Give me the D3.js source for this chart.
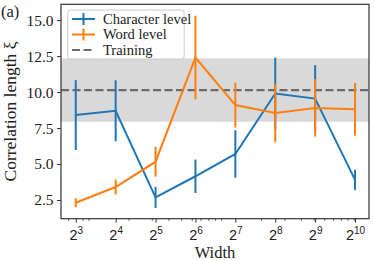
<!DOCTYPE html>
<html>
<head>
<meta charset="utf-8">
<script src="https://cdn.jsdelivr.net/npm/d3@7"></script>
<style>
  body { margin: 0; background: #fff; }
  svg { display: block; font-family: "Liberation Serif", "DejaVu Serif", serif; }
</style>
</head>
<body>
<div id="chart"></div>
<script>
// Data
const widths = [8, 16, 32, 64, 128, 256, 512, 1024];
const charMean = [8.40, 8.70, 2.68, 4.15, 5.70, 9.90, 9.55, 3.90];
const charErr = [2.43, 2.12, 0.73, 1.16, 1.65, 2.50, 2.32, 0.70];
const wordMean = [2.31, 3.40, 5.16, 12.40, 9.10, 8.55, 8.90, 8.80];
const wordErr = [0.31, 0.52, 1.04, 2.90, 1.55, 2.05, 2.00, 1.83];
const trainMean = 10.14;
const trainStd = 2.2;
const yTicks = [2.5, 5.0, 7.5, 10.0, 12.5, 15.0];
const xMinorTicks = [7, 9, 10, 20, 30, 40, 50, 60, 70, 80, 90, 100, 200, 300, 400, 500, 600, 700, 800, 900, 1000];
const seriesNames = ["Character level", "Word level", "Training"];

const drawChart = (containerId) => {
    const width = 374;
    const height = 261;
    const margin = { top: 4.3, right: 5, bottom: 42.3, left: 61 };

    const blue = "#1f77b4";
    const orange = "#ff7f0e";

    const svg = d3.select(containerId)
        .append("svg")
        .attr("width", width)
        .attr("height", height);

    const xScale = d3.scaleLog()
        .base(2)
        .domain([Math.pow(2, 2.63), Math.pow(2, 10.35)])
        .range([margin.left, width - margin.right]);

    const yScale = d3.scaleLinear()
        .domain([1.2, 16.1])
        .range([height - margin.bottom, margin.top]);

    const [x0, x1] = xScale.range();
    const [yb, yt] = yScale.range();

    // Training band and mean
    svg.append("rect")
        .attr("x", x0)
        .attr("width", x1 - x0)
        .attr("y", yScale(trainMean + trainStd))
        .attr("height", yScale(trainMean - trainStd) - yScale(trainMean + trainStd))
        .attr("fill", "#d9d9d9");

    svg.append("line")
        .attr("x1", x0).attr("x2", x1)
        .attr("y1", yScale(trainMean)).attr("y2", yScale(trainMean))
        .attr("stroke", "#6b6b6b")
        .attr("stroke-width", 2.2)
        .attr("stroke-dasharray", "8,3.5");

    // Series with error bars
    const drawSeries = (means, errs, color) => {
        const pts = widths.map((w, i) => ({ w, m: means[i], e: errs[i] }));
        const line = d3.line().x(d => xScale(d.w)).y(d => yScale(d.m));
        svg.append("path")
            .datum(pts)
            .attr("d", line)
            .attr("fill", "none")
            .attr("stroke", color)
            .attr("stroke-width", 2);
        svg.append("g").selectAll("line")
            .data(pts)
            .join("line")
            .attr("x1", d => xScale(d.w)).attr("x2", d => xScale(d.w))
            .attr("y1", d => yScale(d.m - d.e)).attr("y2", d => yScale(d.m + d.e))
            .attr("stroke", color)
            .attr("stroke-width", 2);
    };
    drawSeries(charMean, charErr, blue);
    drawSeries(wordMean, wordErr, orange);

    // Axes frame
    svg.append("rect")
        .attr("x", x0).attr("y", yt)
        .attr("width", x1 - x0).attr("height", yb - yt)
        .attr("fill", "none")
        .attr("stroke", "#333")
        .attr("stroke-width", 1.2);

    // Y axis
    const yAxis = d3.axisLeft(yScale)
        .tickValues(yTicks)
        .tickFormat(d3.format(".1f"))
        .tickSize(4)
        .tickPadding(3.5);
    const gy = svg.append("g")
        .attr("transform", `translate(${x0},0)`)
        .call(yAxis);
    gy.select(".domain").remove();
    gy.selectAll(".tick line").attr("stroke", "#333").attr("stroke-width", 1);
    gy.selectAll(".tick text")
        .attr("font-family", "Liberation Serif")
        .attr("font-size", 15.5)
        .attr("fill", "#222");

    // X axis: major ticks
    const xAxis = d3.axisBottom(xScale)
        .tickValues(widths)
        .tickFormat("")
        .tickSize(4);
    const gx = svg.append("g")
        .attr("transform", `translate(0,${yb})`)
        .call(xAxis);
    gx.select(".domain").remove();
    gx.selectAll(".tick line").attr("stroke", "#333").attr("stroke-width", 1);

    gx.selectAll(".tick")
        .append("text")
        .attr("y", 21)
        .attr("text-anchor", "middle")
        .attr("fill", "#222")
        .attr("font-size", 14.5)
        .each(function(d) {
            const t = d3.select(this);
            t.append("tspan").text("2");
            t.append("tspan")
                .attr("font-size", 10)
                .attr("dy", -6)
                .text(Math.round(Math.log2(d)));
        });

    // X axis: minor ticks
    const xMinor = d3.axisBottom(xScale)
        .tickValues(xMinorTicks)
        .tickFormat("")
        .tickSize(2.2);
    const gxm = svg.append("g")
        .attr("transform", `translate(0,${yb})`)
        .call(xMinor);
    gxm.select(".domain").remove();
    gxm.selectAll(".tick line").attr("stroke", "#333").attr("stroke-width", 0.8);

    // Axis labels
    svg.append("text")
        .attr("x", (x0 + x1) / 2)
        .attr("y", 258)
        .attr("text-anchor", "middle")
        .attr("font-size", 16.5)
        .attr("fill", "#222")
        .text("Width");

    svg.append("text")
        .attr("transform", `translate(16,${(yb + yt) / 2}) rotate(-90)`)
        .attr("text-anchor", "middle")
        .attr("font-size", 17.5)
        .attr("fill", "#222")
        .text("Correlation length ξ");

    svg.append("text")
        .attr("x", 1)
        .attr("y", 17)
        .attr("font-size", 16.5)
        .attr("fill", "#222")
        .text("(a)");

    // Legend
    const legend = svg.append("g");
    legend.append("rect")
        .attr("x", 67.7).attr("y", 10)
        .attr("width", 116.5).attr("height", 49)
        .attr("rx", 3)
        .attr("fill", "#fff")
        .attr("fill-opacity", 0.8)
        .attr("stroke", "#ccc")
        .attr("stroke-width", 1);

    const rows = [
        { name: seriesNames[0], color: blue, type: "err", y: 19 },
        { name: seriesNames[1], color: orange, type: "err", y: 34.5 },
        { name: seriesNames[2], color: "#6b6b6b", type: "dash", y: 50 }
    ];
    rows.forEach(r => {
        const g = legend.append("g");
        g.append("line")
            .attr("x1", 72).attr("x2", 95)
            .attr("y1", r.y).attr("y2", r.y)
            .attr("stroke", r.color)
            .attr("stroke-width", 2)
            .attr("stroke-dasharray", r.type === "dash" ? "8,3.5" : null);
        if (r.type === "err") {
            g.append("line")
                .attr("x1", 83.5).attr("x2", 83.5)
                .attr("y1", r.y - 6).attr("y2", r.y + 6)
                .attr("stroke", r.color)
                .attr("stroke-width", 2);
        }
        g.append("text")
            .attr("x", 103)
            .attr("y", r.y + 4.5)
            .attr("font-size", 14.5)
            .attr("fill", "#222")
            .text(r.name);
    });
};

drawChart("#chart");
</script>
</body>
</html>
